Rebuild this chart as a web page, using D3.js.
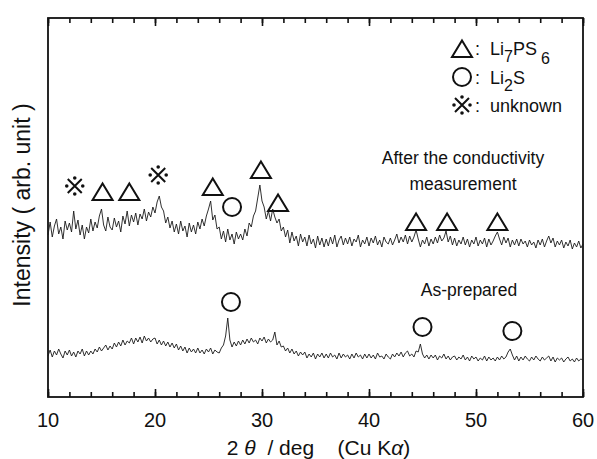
<!DOCTYPE html>
<html lang="en">
  <head>
    <meta charset="utf-8">
    <title>XRD</title>
    <style>
    body { margin: 0; background: #fff; }
    text { font-family: "Liberation Sans", Arial, sans-serif; fill: #111; }
    </style>
    <script type="text/javascript" src="https://cdn.jsdelivr.net/npm/d3@7"></script>
  </head>
  <body>
    <script type="text/javascript">

      // 2theta grid: 10 -> 60 deg, step 0.2
      var twoTheta = d3.range(0, 251).map(i => 10 + i * 0.2);

      // after the conductivity measurement (upper pattern), one row = 2 deg
      var afterCond = [
        162,175,160,171,178,163,170,158,176,167,
        174,165,186,168,177,162,172,158,170,164,
        178,166,175,169,181,188,172,166,180,170,
        167,179,170,176,165,181,173,186,171,182,
        175,184,172,183,178,188,176,185,180,190,
        184,195,201,190,186,174,180,169,176,165,
        173,163,176,166,171,160,174,165,172,163,
        175,168,178,171,181,188,196,177,182,168,
        170,158,166,155,168,157,163,153,165,158,
        163,157,168,161,174,170,181,186,199,212,
        196,190,178,186,176,188,180,174,178,166,
        170,160,167,154,165,156,161,151,163,155,
        160,151,162,153,158,149,161,152,159,150,
        158,151,160,153,162,150,157,161,152,159,
        153,160,151,158,155,162,150,157,153,160,
        151,159,154,161,152,157,150,160,155,153,
        159,152,157,163,154,160,155,162,153,161,
        155,160,167,158,150,157,153,160,151,158,
        153,160,154,162,156,159,166,155,161,152,
        159,151,157,153,160,152,158,150,157,153,
        160,151,157,153,159,150,158,152,156,161,
        165,158,152,160,154,159,150,157,152,158,
        151,158,153,156,150,157,152,155,149,157,
        152,158,150,156,161,154,159,150,156,152,
        157,149,155,151,157,148,154,150,156,149,
        153
      ];

      // as-prepared (lower pattern)
      var asPrepared = [
        41,47,40,46,42,48,43,39,46,42,
        47,41,45,40,46,43,48,41,46,42,
        46,43,48,45,50,46,49,52,47,51,
        48,54,50,55,51,57,52,56,54,59,
        53,59,55,60,54,61,56,59,55,58,
        59,53,57,52,56,51,55,50,54,49,
        53,47,51,46,50,44,49,45,48,44,
        49,44,47,43,48,45,49,43,47,45,
        44,49,52,61,79,57,50,55,51,56,
        52,57,53,58,54,59,55,57,53,59,
        56,60,54,58,55,57,65,52,56,50,
        51,46,49,44,48,43,46,41,45,42,
        45,39,43,40,44,38,43,40,44,39,
        43,39,44,40,42,38,44,39,43,40,
        42,38,43,39,44,40,42,38,43,39,
        43,39,42,38,44,40,41,38,43,40,
        38,43,40,44,41,45,40,44,46,41,
        43,40,46,45,53,43,39,42,38,42,
        39,42,37,41,39,43,38,41,37,40,
        41,37,40,38,42,37,40,36,41,38,
        40,36,39,37,41,36,40,37,39,36,
        40,37,41,38,40,45,48,42,37,41,
        36,40,37,41,38,36,40,37,41,38,
        36,40,37,39,41,36,40,35,39,37,
        39,35,38,40,36,38,35,39,36,38,
        37
      ];

      // peak markers [2theta, intensity]
      var triangles = [[15.1, 205], [17.6, 205], [25.4, 210], [29.9, 227], [31.5, 194],
                       [44.4, 175], [47.3, 175], [52.0, 175]];
      var circles = [[27.2, 190], [27.1, 95], [45.0, 70], [53.4, 66]];
      var unknowns = [[12.5, 211], [20.3, 222]];

      var xTicks = [10, 20, 30, 40, 50, 60];

      var W = 597, H = 459;
      var pL = 48, pR = 583, pT = 18, pB = 397;

      var svg = d3.select("body").append("svg")
          .attr("width", W)
          .attr("height", H);

      var x = d3.scaleLinear().domain([10, 60]).range([pL, pR]);
      var y = d3.scaleLinear().domain([0, pB - pT]).range([pB, pT]);

      // frame
      svg.append("rect")
          .attr("x", pL).attr("y", pT)
          .attr("width", pR - pL).attr("height", pB - pT)
          .attr("fill", "none").attr("stroke", "#111").attr("stroke-width", 1.8);

      // ticks inward, top and bottom (minor every 2 deg, major every 10)
      var minor = d3.range(10, 61, 2);
      svg.append("g")
          .attr("transform", "translate(0," + pB + ")")
          .call(d3.axisTop(x).tickValues(minor).tickSize(5).tickFormat(""))
          .call(g => g.select(".domain").remove());
      svg.append("g")
          .attr("transform", "translate(0," + pB + ")")
          .call(d3.axisTop(x).tickValues(xTicks).tickSize(8).tickFormat(""))
          .call(g => g.select(".domain").remove());
      svg.append("g")
          .attr("transform", "translate(0," + pT + ")")
          .call(d3.axisBottom(x).tickValues(minor).tickSize(5).tickFormat(""))
          .call(g => g.select(".domain").remove());
      svg.append("g")
          .attr("transform", "translate(0," + pT + ")")
          .call(d3.axisBottom(x).tickValues(xTicks).tickSize(8).tickFormat(""))
          .call(g => g.select(".domain").remove());
      svg.selectAll(".tick line").attr("stroke", "#111").attr("stroke-width", 1.6);

      // tick labels
      svg.selectAll(".xlab")
        .data(xTicks)
        .enter()
        .append("text")
        .attr("x", d => x(d))
        .attr("y", 427)
        .attr("text-anchor", "middle")
        .style("font-size", "20px")
        .text(d => d);

      // axis titles
      var xt = svg.append("text")
          .attr("x", (pL + pR) / 2 + 3)
          .attr("y", 455)
          .attr("text-anchor", "middle")
          .attr("xml:space", "preserve")
          .style("font-size", "21px");
      xt.append("tspan").text("2 ");
      xt.append("tspan").style("font-style", "italic").text("θ");
      xt.append("tspan").text("  / deg    (Cu K");
      xt.append("tspan").style("font-style", "italic").text("α");
      xt.append("tspan").text(")");

      svg.append("text")
          .attr("transform", "translate(30,205) rotate(-90)")
          .attr("text-anchor", "middle")
          .style("font-size", "23px")
          .text("Intensity ( arb. unit )");

      // patterns
      var line = d3.line()
          .x((d, i) => x(twoTheta[i]))
          .y(d => y(d));

      [afterCond, asPrepared].forEach(function(s) {
        svg.append("path")
            .datum(s)
            .attr("d", line)
            .attr("fill", "none")
            .attr("stroke", "#1a1a1a")
            .attr("stroke-width", 0.9);
      });

      // marker shapes
      var triD = "M0,-8.5L10,8L-10,8Z";
      function drawUnknown(g) {
        g.append("path")
          .attr("d", "M-7,-7L7,7M-7,7L7,-7")
          .attr("stroke", "#111").attr("stroke-width", 2);
        g.selectAll("circle")
          .data([[0, -8], [0, 8], [-8, 0], [8, 0]])
          .enter()
          .append("circle")
          .attr("cx", d => d[0]).attr("cy", d => d[1])
          .attr("r", 1.8).attr("fill", "#111");
      }

      svg.selectAll(".tri")
        .data(triangles)
        .enter()
        .append("path")
        .attr("transform", d => "translate(" + x(d[0]) + "," + y(d[1]) + ")")
        .attr("d", triD)
        .attr("fill", "none").attr("stroke", "#111").attr("stroke-width", 2);

      svg.selectAll(".circ")
        .data(circles)
        .enter()
        .append("circle")
        .attr("cx", d => x(d[0])).attr("cy", d => y(d[1]))
        .attr("r", 9)
        .attr("fill", "none").attr("stroke", "#111").attr("stroke-width", 2);

      unknowns.forEach(function(d) {
        drawUnknown(svg.append("g").attr("transform", "translate(" + x(d[0]) + "," + y(d[1]) + ")"));
      });

      // legend
      var lg = svg.append("g").attr("transform", "translate(462,0)");
      lg.append("path").attr("transform", "translate(0,49)").attr("d", triD)
        .attr("fill", "none").attr("stroke", "#111").attr("stroke-width", 2);
      lg.append("circle").attr("cx", 0).attr("cy", 77).attr("r", 9)
        .attr("fill", "none").attr("stroke", "#111").attr("stroke-width", 2);
      drawUnknown(lg.append("g").attr("transform", "translate(0,105)"));

      var t1 = lg.append("text").attr("x", 13).attr("y", 55).attr("xml:space", "preserve")
        .style("font-size", "18px");
      t1.append("tspan").text(":  Li");
      t1.append("tspan").attr("dy", 7).style("font-size", "16px").text("7");
      t1.append("tspan").attr("dy", -7).text("PS");
      t1.append("tspan").attr("dy", 9).attr("dx", 4).style("font-size", "16px").text("6");

      var t2 = lg.append("text").attr("x", 13).attr("y", 84).attr("xml:space", "preserve")
        .style("font-size", "18px");
      t2.append("tspan").text(":  Li");
      t2.append("tspan").attr("dy", 7).style("font-size", "16px").text("2");
      t2.append("tspan").attr("dy", -7).text("S");

      lg.append("text").attr("x", 13).attr("y", 112).attr("xml:space", "preserve")
        .style("font-size", "18px").text(":  unknown");

      // pattern labels
      svg.append("text").attr("x", 463).attr("y", 164).attr("text-anchor", "middle")
        .style("font-size", "17.5px").text("After the conductivity");
      svg.append("text").attr("x", 463).attr("y", 190).attr("text-anchor", "middle")
        .style("font-size", "17.5px").text("measurement");
      svg.append("text").attr("x", 469).attr("y", 296).attr("text-anchor", "middle")
        .style("font-size", "17.5px").text("As-prepared");

    </script>
  </body>
</html>
